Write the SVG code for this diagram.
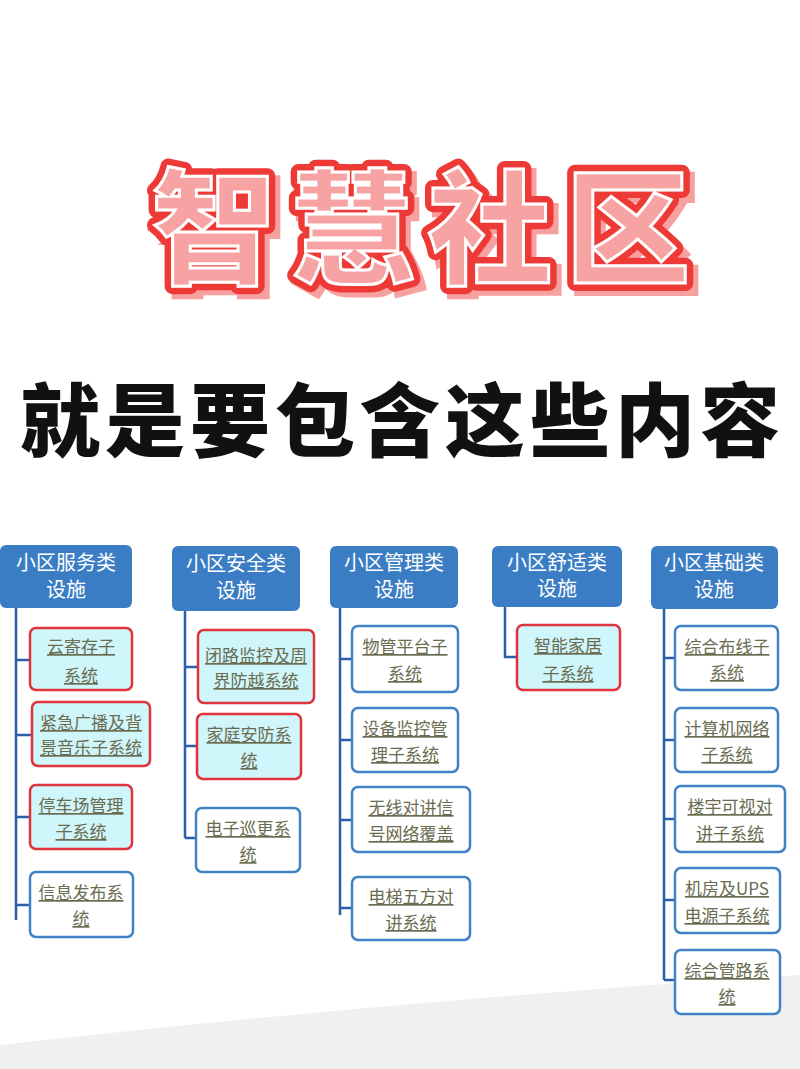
<svg xmlns="http://www.w3.org/2000/svg" width="800" height="1069" viewBox="0 0 800 1069">
<style>
.t{font-family:"Noto Sans CJK SC",sans-serif;font-weight:900;font-size:124px}
.h{fill:#3b7dc4}
.hx{font-family:"Noto Sans CJK SC",sans-serif;font-size:20px;fill:#fff;text-anchor:middle}
.r{fill:#cff6fa;stroke:#e0333b;stroke-width:2.5}
.b{fill:#fff;stroke:#3f82c6;stroke-width:2.5}
.c{font-family:"Noto Sans CJK SC",sans-serif;font-size:17px;fill:#6a6b4f;text-anchor:middle;text-decoration:underline}
.ln{stroke:#2a5ea8;stroke-width:2.5;fill:none}
</style>
<rect width="800" height="1069" fill="#fff"/>
<path d="M0 1045 Q400 1000 800 975 L800 1069 L0 1069 Z" fill="#f0f0f0"/>
<g id="title">
<text class="t" x="434" y="280" text-anchor="middle" letter-spacing="14" fill="#f6a0a0" stroke="#f6a0a0" stroke-width="14">智慧社区</text>
<text class="t" x="428" y="274" text-anchor="middle" letter-spacing="14" fill="#ee3a36" stroke="#ee3a36" stroke-width="16" stroke-linejoin="round">智慧社区</text>
<text class="t" x="428" y="274" text-anchor="middle" letter-spacing="14" fill="#f7a3a3" stroke="#fff" stroke-width="3">智慧社区</text>
</g>
<text x="400" y="450" text-anchor="middle" font-family="'Noto Sans CJK SC',sans-serif" font-weight="900" font-size="80" textLength="760" fill="#111">就是要包含这些内容</text>
<g id="connectors">
<path class="ln" d="M16 608V920M16 660H30M16 735H32M16 817H30M16 905H30"/>
<path class="ln" d="M185 611V838M185 667H198M185 746H197M185 838H196"/>
<path class="ln" d="M340 608V915M340 659H352M340 740H352M340 820H352M340 908H352"/>
<path class="ln" d="M505 607V657H517"/>
<path class="ln" d="M664 609V980M664 658H675M664 740H675M664 819H675M664 900H675M664 980H675"/>
</g>
<g id="h1"><rect class="h" x="0" y="545" width="132" height="63" rx="6"/><text class="hx" x="66" y="570">小区服务类</text><text class="hx" x="66" y="597">设施</text></g>
<g id="h2"><rect class="h" x="172" y="546" width="128" height="65" rx="6"/><text class="hx" x="236" y="571">小区安全类</text><text class="hx" x="236" y="598">设施</text></g>
<g id="h3"><rect class="h" x="330" y="546" width="128" height="62" rx="6"/><text class="hx" x="394" y="570">小区管理类</text><text class="hx" x="394" y="597">设施</text></g>
<g id="h4"><rect class="h" x="492" y="546" width="130" height="61" rx="6"/><text class="hx" x="557" y="570">小区舒适类</text><text class="hx" x="557" y="596">设施</text></g>
<g id="h5"><rect class="h" x="651" y="546" width="127" height="63" rx="6"/><text class="hx" x="714" y="570">小区基础类</text><text class="hx" x="714" y="597">设施</text></g>

<g id="n1"><rect class="r" x="30" y="628" width="102" height="62" rx="6"/><text class="c" x="81" y="653">云寄存子</text><text class="c" x="81" y="682">系统</text></g>
<g id="n2"><rect class="r" x="32" y="702" width="118" height="64" rx="6"/><text class="c" x="91" y="729">紧急广播及背</text><text class="c" x="91" y="754">景音乐子系统</text></g>
<g id="n3"><rect class="r" x="30" y="785" width="102" height="64" rx="6"/><text class="c" x="81" y="812">停车场管理</text><text class="c" x="81" y="838">子系统</text></g>
<g id="n4"><rect class="b" x="30" y="872" width="103" height="65" rx="6"/><text class="c" x="81" y="899">信息发布系</text><text class="c" x="81" y="925">统</text></g>

<g id="n5"><rect class="r" x="198" y="630" width="116" height="73" rx="6"/><text class="c" x="256" y="662">闭路监控及周</text><text class="c" x="256" y="687">界防越系统</text></g>
<g id="n6"><rect class="r" x="197" y="714" width="104" height="65" rx="6"/><text class="c" x="249" y="741">家庭安防系</text><text class="c" x="249" y="767">统</text></g>
<g id="n7"><rect class="b" x="196" y="808" width="104" height="64" rx="6"/><text class="c" x="248" y="835">电子巡更系</text><text class="c" x="248" y="861">统</text></g>

<g id="n8"><rect class="b" x="352" y="626" width="106" height="66" rx="6"/><text class="c" x="405" y="653">物管平台子</text><text class="c" x="405" y="680">系统</text></g>
<g id="n9"><rect class="b" x="352" y="708" width="106" height="64" rx="6"/><text class="c" x="405" y="735">设备监控管</text><text class="c" x="405" y="761">理子系统</text></g>
<g id="n10"><rect class="b" x="352" y="787" width="118" height="65" rx="6"/><text class="c" x="411" y="814">无线对讲信</text><text class="c" x="411" y="840">号网络覆盖</text></g>
<g id="n11"><rect class="b" x="352" y="877" width="118" height="63" rx="6"/><text class="c" x="411" y="903">电梯五方对</text><text class="c" x="411" y="929">讲系统</text></g>

<g id="n12"><rect class="r" x="517" y="625" width="103" height="65" rx="6"/><text class="c" x="568" y="652">智能家居</text><text class="c" x="568" y="680">子系统</text></g>

<g id="n13"><rect class="b" x="675" y="626" width="103" height="64" rx="6"/><text class="c" x="727" y="653">综合布线子</text><text class="c" x="727" y="679">系统</text></g>
<g id="n14"><rect class="b" x="675" y="708" width="103" height="64" rx="6"/><text class="c" x="727" y="735">计算机网络</text><text class="c" x="727" y="761">子系统</text></g>
<g id="n15"><rect class="b" x="675" y="786" width="110" height="66" rx="6"/><text class="c" x="730" y="813">楼宇可视对</text><text class="c" x="730" y="840">讲子系统</text></g>
<g id="n16"><rect class="b" x="675" y="868" width="105" height="65" rx="6"/><text class="c" x="727" y="895">机房及UPS</text><text class="c" x="727" y="922">电源子系统</text></g>
<g id="n17"><rect class="b" x="675" y="950" width="105" height="64" rx="6"/><text class="c" x="727" y="977">综合管路系</text><text class="c" x="727" y="1003">统</text></g>
</svg>
